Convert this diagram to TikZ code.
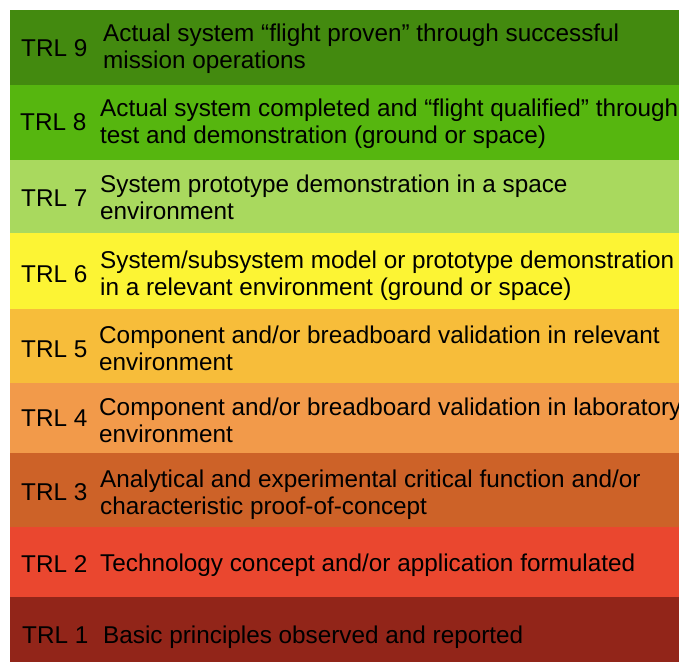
\documentclass[tikz,border=0pt]{standalone}
\usepackage{fontspec}
\setmainfont{Liberation Sans}
\definecolor{trlnine}{HTML}{438A0F}
\definecolor{trleight}{HTML}{56B60F}
\definecolor{trlseven}{HTML}{A9D95E}
\definecolor{trlsix}{HTML}{FCF434}
\definecolor{trlfive}{HTML}{F7BD3A}
\definecolor{trlfour}{HTML}{F29A4A}
\definecolor{trlthree}{HTML}{CD6228}
\definecolor{trltwo}{HTML}{EA472F}
\definecolor{trlone}{HTML}{922519}
\begin{document}
\begin{tikzpicture}[x=1pt,y=-1pt,
  lvl/.style={anchor=base west, inner sep=0pt, font=\fontsize{24.3}{27}\selectfont},
  desc/.style={anchor=base west, inner sep=0pt, align=left, font=\fontsize{24.3}{27}\selectfont}]
\useasboundingbox (0,0) rectangle (679,662);
\fill[white] (0,0) rectangle (679,662);
\clip (0,0) rectangle (679,662);
\fill[trlnine]  (10,10)  rectangle (679,85);
\fill[trleight] (10,85)  rectangle (679,160);
\fill[trlseven] (10,160) rectangle (679,233);
\fill[trlsix]   (10,233) rectangle (679,309);
\fill[trlfive]  (10,309) rectangle (679,383);
\fill[trlfour]  (10,383) rectangle (679,453);
\fill[trlthree] (10,453) rectangle (679,527);
\fill[trltwo]   (10,527) rectangle (679,597);
\fill[trlone]   (10,597) rectangle (679,662);
\node[lvl] (l9) at (21,56)  {TRL 9};
\node[lvl] (l8) at (20,130) {TRL 8};
\node[lvl] (l7) at (21,206) {TRL 7};
\node[lvl] (l6) at (21,282) {TRL 6};
\node[lvl] (l5) at (21,357) {TRL 5};
\node[lvl] (l4) at (21,426) {TRL 4};
\node[lvl] (l3) at (21,500) {TRL 3};
\node[lvl] (l2) at (21,572) {TRL 2};
\node[lvl] (l1) at (22,643) {TRL 1};
\node[desc] (d9) at (103,68)  {Actual system “flight proven” through successful\\mission operations};
\node[desc] (d8) at (100,143) {Actual system completed and “flight qualified” through\\test and demonstration (ground or space)};
\node[desc] (d7) at (100,219) {System prototype demonstration in a space\\environment};
\node[desc] (d6) at (100,295) {System/subsystem model or prototype demonstration\\in a relevant environment (ground or space)};
\node[desc] (d5) at (99,370)  {Component and/or breadboard validation in relevant\\environment};
\node[desc] (d4) at (99,442)  {Component and/or breadboard validation in laboratory\\environment};
\node[desc] (d3) at (100,514) {Analytical and experimental critical function and/or\\characteristic proof-of-concept};
\node[desc] (d2) at (100,571) {Technology concept and/or application formulated};
\node[desc] (d1) at (103,643) {Basic principles observed and reported};
\end{tikzpicture}
\end{document}
